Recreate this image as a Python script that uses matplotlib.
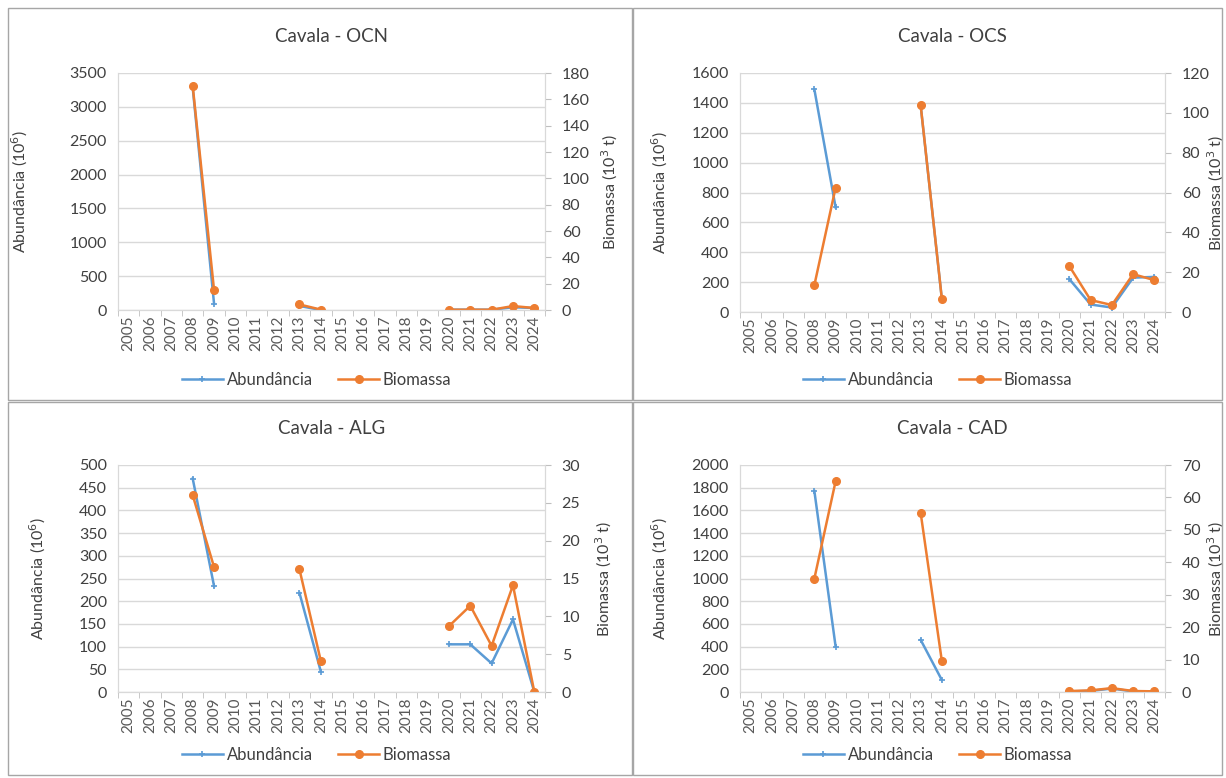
import numpy as np
import matplotlib
matplotlib.use("Agg")
import matplotlib.pyplot as plt
from matplotlib.patches import Rectangle

plt.rcParams['font.family'] = ['Lato', 'DejaVu Sans']

nan = np.nan
anos = list(range(2005, 2025))

# valores (NaN = sem campanha)
ocn_abund = [nan, nan, nan, 3280, 90, nan, nan, nan, 60, 0, nan, nan, nan, nan, nan, 5, 5, 5, 40, 30]
ocn_biom = [nan, nan, nan, 170, 15, nan, nan, nan, 4.2, 0.3, nan, nan, nan, nan, nan, 0.2, 0.2, 0.2, 3.0, 1.5]

ocs_abund = [nan, nan, nan, 1490, 700, nan, nan, nan, 1385, 85, nan, nan, nan, nan, nan, 220, 50, 30, 230, 235]
ocs_biom = [nan, nan, nan, 13.5, 62.5, nan, nan, nan, 104, 6.5, nan, nan, nan, nan, nan, 23, 6, 3.5, 19, 16]

alg_abund = [nan, nan, nan, 470, 233, nan, nan, nan, 218, 45, nan, nan, nan, nan, nan, 105, 105, 63, 160, 0]
alg_biom = [nan, nan, nan, 26, 16.5, nan, nan, nan, 16.2, 4.1, nan, nan, nan, nan, nan, 8.7, 11.4, 6.1, 14.1, 0]

cad_abund = [nan, nan, nan, 1770, 400, nan, nan, nan, 460, 105, nan, nan, nan, nan, nan, 5, 10, 30, 5, 5]
cad_biom = [nan, nan, nan, 35, 65, nan, nan, nan, 55.3, 9.5, nan, nan, nan, nan, nan, 0.3, 0.5, 1.2, 0.3, 0.2]

paineis = [
    ("Cavala - OCN", ocn_abund, ocn_biom, 3500, 500, 180, 20),
    ("Cavala - OCS", ocs_abund, ocs_biom, 1600, 200, 120, 20),
    ("Cavala - ALG", alg_abund, alg_biom, 500, 50, 30, 5),
    ("Cavala - CAD", cad_abund, cad_biom, 2000, 200, 70, 10),
]

AZUL = '#5B9BD5'
LARANJA = '#ED7D31'
CINZA = '#595959'
TEXTO = '#404040'

W, H = 1226, 778
fig = plt.figure(figsize=(W / 100, H / 100), dpi=100)

# caixas dos painéis (em pixels)
caixas = [(8, 8, 632, 400), (633, 8, 1222, 400), (8, 402, 632, 775), (633, 402, 1222, 775)]
# área de desenho (x0, x1, y_topo, y_base) em pixels
areas = [(118, 545, 73, 310), (740, 1165, 73, 312), (118, 545, 465, 692), (740, 1165, 465, 692)]
# posição x (pixels) dos títulos dos eixos y, esquerdo e direito
rotulos_x = [(30, 600), (670, 1206), (48, 594), (670, 1206)]

for (titulo, abund, biom, ymax, ystep, y2max, y2step), cx, ar, rx in zip(paineis, caixas, areas, rotulos_x):
    fig.patches.append(Rectangle((cx[0] / W, 1 - cx[3] / H), (cx[2] - cx[0]) / W, (cx[3] - cx[1]) / H,
                                 transform=fig.transFigure, fill=False, edgecolor='#A6A6A6', lw=1))
    ax = fig.add_axes([ar[0] / W, 1 - ar[3] / H, (ar[1] - ar[0]) / W, (ar[3] - ar[2]) / H])
    ax2 = ax.twinx()
    x = np.arange(len(anos))

    l1, = ax.plot(x, abund, color=AZUL, marker='+', ms=5, mew=1.2, lw=1.8, label='Abundância')
    l2, = ax2.plot(x, biom, color=LARANJA, marker='o', ms=5.5, lw=1.8, label='Biomassa')

    ax.set_xlim(-0.5, len(anos) - 0.5)
    ax.set_ylim(0, ymax)
    ax.set_yticks(np.arange(0, ymax + 1, ystep))
    ax2.set_ylim(0, y2max)
    ax2.set_yticks(np.arange(0, y2max + 1, y2step))

    ax.set_xticks(x)
    ax.set_xticklabels([str(a) for a in anos], rotation=90, fontsize=11, color=CINZA)
    ax.set_xticks(np.arange(-0.5, len(anos), 1), minor=True)
    ax.tick_params(axis='x', which='major', length=0, pad=4)
    ax.tick_params(axis='x', which='minor', length=4, color='#BFBFBF')
    ax.tick_params(axis='y', length=0, labelsize=11.5, colors=TEXTO, pad=8)
    ax2.tick_params(axis='y', length=4, color='#BFBFBF', labelsize=11.5, labelcolor=TEXTO, pad=8)

    ax.grid(axis='y', color='#D9D9D9', lw=1)
    ax.set_axisbelow(True)
    for a in (ax, ax2):
        a.spines['top'].set_visible(False)
        for s in ('left', 'right', 'bottom'):
            a.spines[s].set_color('#D9D9D9')

    larg = ar[1] - ar[0]
    ax.set_ylabel('Abundância (10$^6$)', fontsize=11.5, color=TEXTO)
    ax.yaxis.set_label_coords((rx[0] - ar[0]) / larg, 0.5)
    ax2.set_ylabel('Biomassa (10$^3$ t)', fontsize=11.5, color=TEXTO)
    ax2.yaxis.set_label_coords((rx[1] - ar[0]) / larg, 0.5)

    ax.set_title(titulo, fontsize=13.5, color=TEXTO, pad=22)
    cx_centro = ((ar[0] + ar[1]) / 2 - 15) / W
    fig.legend([l1, l2], ['Abundância', 'Biomassa'], loc='center', ncol=2, frameon=False,
               bbox_to_anchor=(cx_centro, 1 - (cx[3] - 20) / H), fontsize=12,
               labelcolor=TEXTO, handlelength=2.5, columnspacing=1.5, handletextpad=0.2)

fig.savefig('out.png', dpi=100)
